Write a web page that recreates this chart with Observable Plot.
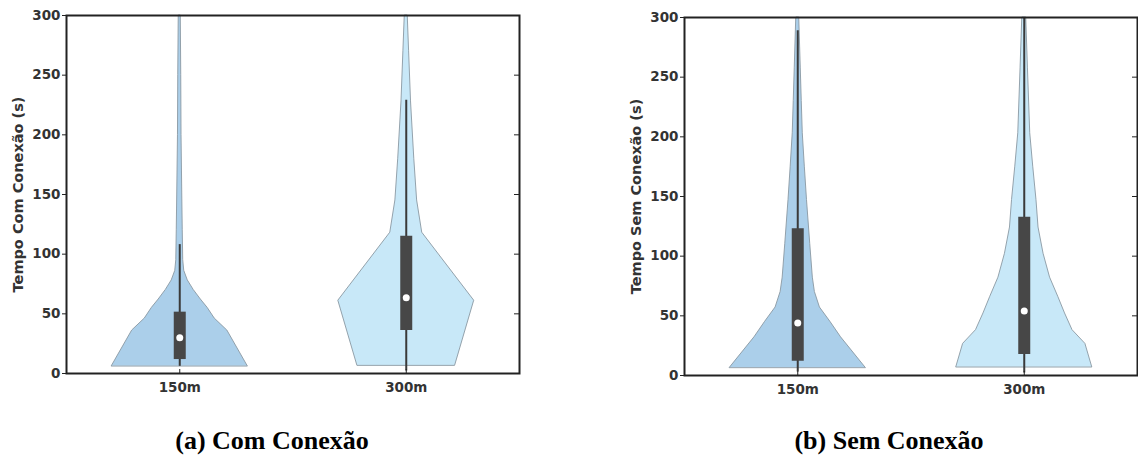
<!DOCTYPE html>
<html><head><meta charset="utf-8">
<script src="https://cdn.jsdelivr.net/npm/d3@7"></script>
<script src="https://cdn.jsdelivr.net/npm/@observablehq/plot@0.6"></script>
<style>
body{margin:0;background:#fff;}
#wrap{position:relative;width:1138px;height:455px;overflow:hidden;background:#fff;}
.panel{position:absolute;top:0;}
.cap{position:absolute;font-family:"Liberation Serif","Times New Roman",serif;font-weight:bold;font-size:26px;line-height:26px;color:#000;white-space:nowrap;transform:translateX(-50%);}
</style></head><body>
<div id="wrap"></div>
<script>
// ---- data ----
const categories = ["150m", "300m"];
const yTicks = [0, 50, 100, 150, 200, 250, 300];

// (a) Com Conexão: violin profiles (value in s, normalized density)
const comValues150 = [6.1, 36, 46, 55, 62, 70, 78, 86, 95, 120, 150, 200, 250, 300];
const comDensity150 = [1, 0.70, 0.515, 0.41, 0.31, 0.205, 0.118, 0.066, 0.051, 0.044, 0.037, 0.026, 0.022, 0.015];
const comValues300 = [6.7, 61, 118, 145, 180, 228, 270, 300];
const comDensity300 = [0.72, 1, 0.235, 0.16, 0.118, 0.07, 0.042, 0.022];
const comQ1 = [11.7, 36];
const comQ3 = [51.4, 115];
const comMedian = [30, 63.5];
const comWhiskerLow = [6, 2];
const comWhiskerHigh = [108, 229];

// (b) Sem Conexão
const semValues150 = [6.4, 32, 45, 57, 70, 82, 110, 147, 175, 203, 230, 258, 300];
const semDensity150 = [1, 0.637, 0.48, 0.326, 0.252, 0.222, 0.184, 0.136, 0.104, 0.074, 0.059, 0.044, 0.022];
const semValues300 = [7, 26.5, 38, 52, 66, 82, 102, 124, 147, 175, 203, 258, 300];
const semDensity300 = [1, 0.9, 0.71, 0.6, 0.5, 0.38, 0.284, 0.21, 0.18, 0.132, 0.088, 0.054, 0.029];
const semQ1 = [12, 17.6];
const semQ3 = [123, 132.7];
const semMedian = [44, 54];
const semWhiskerLow = [3, 2];
const semWhiskerHigh = [289, 300];

const fills = ["#abcfea", "#c8e8f8"];

function violinPanel(cfg) {
  const HALF = 0.3;
  const marks = [];
  categories.forEach((c, i) => {
    const rows = cfg.values[i].map((v, j) => ({cat: c, pos: i + 1, value: v, dens: cfg.dens[i][j]}));
    marks.push(Plot.areaX(rows, {
      y: "value",
      x1: d => d.pos - HALF * d.dens,
      x2: d => d.pos + HALF * d.dens,
      fill: fills[i], stroke: "#8a98a3", strokeWidth: 0.9
    }));
  });
  const box = categories.map((c, i) => ({
    cat: c, pos: i + 1, q1: cfg.q1[i], q3: cfg.q3[i], med: cfg.med[i], lo: cfg.lo[i], hi: cfg.hi[i]
  }));
  marks.push(
    Plot.ruleX(box, {x: "pos", y1: "lo", y2: "hi", stroke: "#3a3a3a", strokeWidth: 2}),
    Plot.ruleX(box, {x: "pos", y1: "q1", y2: "q3", stroke: "#474747", strokeWidth: 12}),
    Plot.dot(box, {x: "pos", y: "med", r: 3.5, fill: "white", stroke: null}),
    Plot.frame({stroke: "#222", strokeWidth: 2}),
    Plot.axisY({ticks: yTicks, tickSize: 4, tickPadding: 2, label: null, stroke: "#222"}),
    Plot.axisY({anchor: "right", ticks: yTicks, tickSize: 6, dx: -6, tickFormat: () => "", label: null, stroke: "#222"}),
    Plot.axisX({ticks: [1, 2], tickFormat: t => categories[t - 1], tickSize: 0, tickPadding: 9, label: null}),
    Plot.axisX({ticks: [1, 2], tickSize: 4, dy: -4, tickFormat: () => "", label: null, stroke: "#222"}),
    Plot.text([cfg.ylabel], {text: d => d, frameAnchor: "left", textAnchor: "middle", lineAnchor: "middle", dx: -48, rotate: -90, fontSize: 14.5, fill: "#333"})
  );
  return Plot.plot({
    width: cfg.width, height: 400,
    marginLeft: cfg.ml, marginRight: cfg.mr, marginTop: cfg.mt, marginBottom: cfg.mb,
    x: {domain: [0.5, 2.5], axis: null},
    y: {domain: [0, 300], axis: null},
    style: {fontFamily: "'DejaVu Sans', sans-serif", fontSize: "13.5px", fontWeight: "bold", color: "#333", background: "transparent", overflow: "visible"},
    marks
  });
}

const wrap = document.getElementById("wrap");
const a = violinPanel({
  values: [comValues150, comValues300], dens: [comDensity150, comDensity300],
  q1: comQ1, q3: comQ3, med: comMedian, lo: comWhiskerLow, hi: comWhiskerHigh,
  ylabel: "Tempo Com Conexão (s)", width: 540, ml: 66, mr: 21, mt: 15, mb: 27
});
a.classList.add("panel"); a.style.left = "0px";
wrap.appendChild(a);
const b = violinPanel({
  values: [semValues150, semValues300], dens: [semDensity150, semDensity300],
  q1: semQ1, q3: semQ3, med: semMedian, lo: semWhiskerLow, hi: semWhiskerHigh,
  ylabel: "Tempo Sem Conexão (s)", width: 538, ml: 84, mr: 1, mt: 17, mb: 25
});
b.classList.add("panel"); b.style.left = "600px";
wrap.appendChild(b);

const captions = [["(a) Com Conexão", 272], ["(b) Sem Conexão", 889]];
captions.forEach(([t, x]) => {
  const d = document.createElement("div");
  d.className = "cap"; d.textContent = t;
  d.style.left = x + "px"; d.style.top = "428px";
  wrap.appendChild(d);
});
</script>
</body></html>
